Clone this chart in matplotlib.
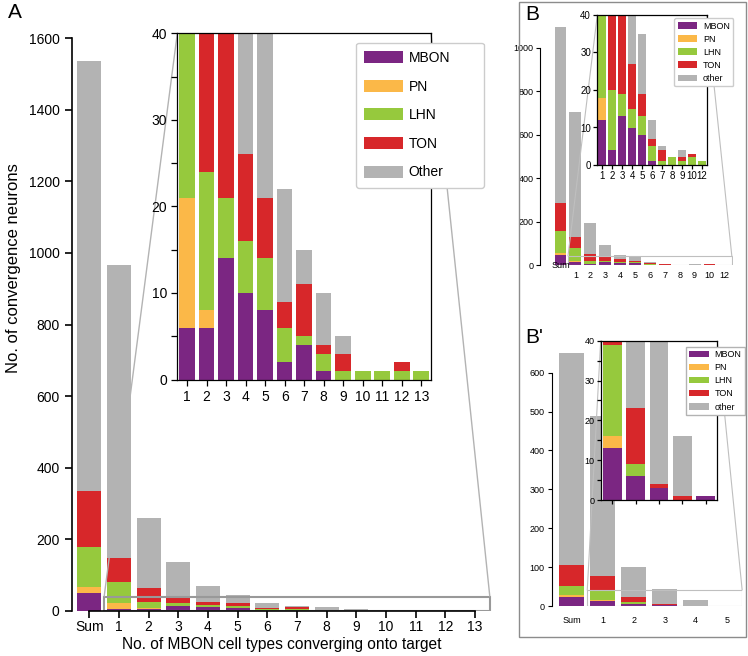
import matplotlib.pyplot as plt
from matplotlib.patches import Rectangle
from mpl_toolkits.axes_grid1.inset_locator import mark_inset

plt.rcParams['font.family'] = ['Liberation Sans', 'DejaVu Sans']

# Panel A: all MBON convergence targets
cats_a = ['Sum', '1', '2', '3', '4', '5', '6', '7', '8', '9', '10', '11', '12', '13']
mbon_a = [51, 6, 6, 14, 10, 8, 2, 4, 1, 0, 0, 0, 0, 0]
pn_a = [16, 15, 2, 0, 0, 0, 0, 0, 0, 0, 0, 0, 0, 0]
lhn_a = [111, 61, 16, 7, 6, 6, 4, 1, 2, 1, 1, 1, 1, 1]
ton_a = [157, 65, 39, 22, 10, 7, 3, 6, 1, 2, 0, 0, 1, 0]
other_a = [1202, 819, 196, 95, 43, 24, 13, 4, 6, 2, 0, 0, 0, 0]

# Panel B
cats_b = ['Sum', '1', '2', '3', '4', '5', '6', '7', '8', '9', '10', '12']
mbon_b = [48, 12, 4, 13, 10, 8, 1, 0, 0, 0, 0, 0]
pn_b = [6, 6, 0, 0, 0, 0, 0, 0, 0, 0, 0, 0]
lhn_b = [102, 59, 16, 6, 5, 5, 4, 1, 2, 1, 2, 1]
ton_b = [131, 53, 31, 22, 12, 6, 2, 3, 0, 1, 1, 0]
other_b = [807, 572, 141, 49, 21, 16, 5, 1, 0, 2, 0, 0]

# Panel B'
cats_c = ['Sum', '1', '2', '3', '4', '5']
mbon_c = [24, 13, 6, 3, 0, 1]
pn_c = [4, 3, 0, 0, 0, 0]
lhn_c = [23, 23, 3, 0, 0, 0]
ton_c = [54, 38, 14, 1, 1, 0]
other_c = [545, 412, 78, 39, 15, 0]

colors = ['#7B2682', '#FBB848', '#96C93D', '#D7272A', '#B3B3B3']

W, H = 748, 656


def box(l, t, r, b):
    # pixel box -> figure fraction
    return [l / W, 1 - b / H, (r - l) / W, (b - t) / H]


def stacked(ax, x, series, width=0.8):
    bottom = [0] * len(x)
    hs = []
    for vals, c in zip(series, colors):
        hs.append(ax.bar(x, vals, width, bottom=bottom, color=c, linewidth=0))
        bottom = [b + v for b, v in zip(bottom, vals)]
    return hs


def inset_style(ax, size):
    for s in ax.spines.values():
        s.set_color('black')
        s.set_linewidth(0.9)
    ax.tick_params(labelsize=size, length=4, width=0.9, which='both')


fig = plt.figure(figsize=(7.48, 6.56), dpi=100)

# ---------------- A ----------------
ax = fig.add_axes(box(71.5, 38, 492.8, 611))
series_a = [mbon_a, pn_a, lhn_a, ton_a, other_a]
stacked(ax, range(len(cats_a)), series_a)
ax.set_xlim(-0.6, 13.6)
ax.set_ylim(0, 1600)
ax.set_yticks(range(0, 1601, 200))
ax.set_xticks(range(len(cats_a)))
ax.set_xticklabels(cats_a)
ax.spines['top'].set_visible(False)
ax.spines['right'].set_visible(False)
ax.spines['bottom'].set_bounds(0, 13)
ax.tick_params(labelsize=10, length=5, width=1.2)
ax.tick_params(axis='x', pad=1.5)
for s in ax.spines.values():
    s.set_linewidth(1.2)
fig.text(14 / W, 1 - 268 / H, 'No. of convergence neurons', rotation=90,
         ha='center', va='center', fontsize=12)
fig.text(282 / W, 1 - 645 / H, 'No. of MBON cell types converging onto target',
         ha='center', va='center', fontsize=11.2)

axi = fig.add_axes(box(177.3, 33.3, 431, 379.5))
hs_a = stacked(axi, range(1, 14), [s[1:] for s in series_a])
axi.set_xlim(0.5, 13.5)
axi.set_ylim(0, 40)
axi.set_xticks(range(1, 14))
axi.set_xticklabels(cats_a[1:])
axi.set_yticks([0, 10, 20, 30, 40])
axi.set_yticks([5, 15, 25, 35], minor=True)
inset_style(axi, 10)
pp, p1, p2 = mark_inset(ax, axi, loc1=1, loc2=2, ec='0.6', lw=1.5)
for p in (p1, p2):
    p.set_linewidth(1)
    p.set_edgecolor('0.7')

fig.legend(hs_a, ['MBON', 'PN', 'LHN', 'TON', 'Other'], loc='upper left',
           bbox_to_anchor=(356 / W, 0.5, 128 / W, 1 - 42.7 / H - 0.5), mode='expand',
           borderaxespad=0, fontsize=10, handlelength=2.75, handleheight=0.95,
           labelspacing=1.05, handletextpad=0.45, borderpad=0.6,
           framealpha=1, edgecolor='0.8')

# ---------------- B ----------------
axb = fig.add_axes(box(540.4, 26, 732.6, 265))
series_b = [mbon_b, pn_b, lhn_b, ton_b, other_b]
stacked(axb, range(len(cats_b)), series_b)
axb.set_xlim(-1.35, 11.55)
axb.set_ylim(0, 1100)
axb.set_yticks(range(0, 1001, 200))
axb.set_xticks(range(len(cats_b)))
axb.set_xticklabels([''] + cats_b[1:])
for s in ['top', 'right', 'bottom']:
    axb.spines[s].set_visible(False)
axb.spines['left'].set_bounds(0, 1000)
axb.spines['left'].set_linewidth(0.8)
axb.tick_params(axis='y', labelsize=6.5, length=3, width=0.8, pad=2)
axb.tick_params(axis='x', labelsize=6.5, length=0, pad=4)
axb.text(0, 0, cats_b[0], ha='center', va='center', fontsize=6.5)

axbi = fig.add_axes(box(597.3, 15, 706.7, 165))
hs_b = stacked(axbi, range(1, 12), [s[1:] for s in series_b])
axbi.set_xlim(0.5, 11.5)
axbi.set_ylim(0, 40)
axbi.set_xticks(range(1, 12))
axbi.set_xticklabels(cats_b[1:])
axbi.set_yticks([0, 10, 20, 30, 40])
inset_style(axbi, 7)
axbi.tick_params(length=3, pad=1.5)
pp, p1, p2 = mark_inset(axb, axbi, loc1=1, loc2=2, ec='0.75', lw=0.8)

fig.legend(hs_b, ['MBON', 'PN', 'LHN', 'TON', 'other'], loc='upper left',
           bbox_to_anchor=(674 / W, 1 - 18 / H), borderaxespad=0, fontsize=6.5,
           handlelength=2.2, handleheight=0.7, labelspacing=0.45,
           handletextpad=0.6, borderpad=0.4, framealpha=1, edgecolor='0.8')

# ---------------- B' ----------------
axc = fig.add_axes(box(551.6, 349.3, 742.2, 606))
series_c = [mbon_c, pn_c, lhn_c, ton_c, other_c]
stacked(axc, range(len(cats_c)), series_c)
axc.set_xlim(-0.65, 5.5)
axc.set_ylim(0, 660)
axc.set_yticks(range(0, 601, 100))
axc.set_xticks(range(len(cats_c)))
axc.set_xticklabels(cats_c)
for s in ['top', 'right', 'bottom']:
    axc.spines[s].set_visible(False)
axc.spines['left'].set_bounds(0, 600)
axc.spines['left'].set_linewidth(0.8)
axc.tick_params(axis='y', labelsize=6.5, length=3, width=0.8, pad=2)
axc.tick_params(axis='x', labelsize=6.5, length=0, pad=7)

axci = fig.add_axes(box(600.7, 340.7, 717.3, 500))
hs_c = stacked(axci, range(1, 6), [s[1:] for s in series_c])
axci.set_xlim(0.5, 5.5)
axci.set_ylim(0, 40)
axci.set_xticks(range(1, 6))
axci.set_xticklabels([])
axci.set_yticks([0, 10, 20, 30, 40])
axci.set_yticks([5, 15, 25, 35], minor=True)
inset_style(axci, 6.5)
axci.tick_params(length=3, pad=1.5, which='both')
pp, p1, p2 = mark_inset(axc, axci, loc1=1, loc2=2, ec='0.75', lw=0.8)

fig.legend(hs_c, ['MBON', 'PN', 'LHN', 'TON', 'other'], loc='upper left',
           bbox_to_anchor=(685.7 / W, 1 - 346.7 / H), borderaxespad=0, fontsize=6.5,
           handlelength=2.2, handleheight=0.7, labelspacing=0.45,
           handletextpad=0.6, borderpad=0.4, framealpha=1, edgecolor='0.7',
           fancybox=False)

# frame round B and B'
fig.add_artist(Rectangle((519 / W, 1 - 636.7 / H), (746 - 519) / W, 635 / H,
                         transform=fig.transFigure, fill=False, ec='0.55', lw=1))

fig.text(8 / W, 1 - 3 / H, 'A', fontsize=15, va='top')
fig.text(525 / W, 1 - 5 / H, 'B', fontsize=15, va='top')
fig.text(525 / W, 1 - 328 / H, "B'", fontsize=15, va='top')

fig.savefig('out.png', dpi=100)
